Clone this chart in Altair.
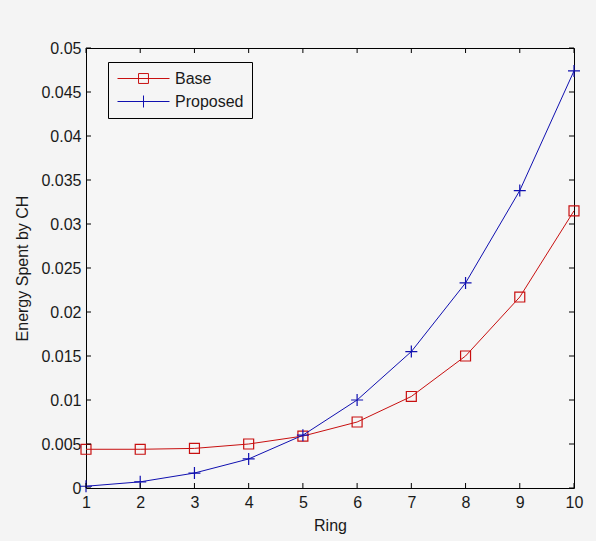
import altair as alt
import pandas as pd

rings = [1, 2, 3, 4, 5, 6, 7, 8, 9, 10]
base = [0.0044, 0.0044, 0.0045, 0.0050, 0.0059, 0.0075, 0.0104, 0.0150, 0.0217, 0.0315]
proposed = [0.0002, 0.0007, 0.0017, 0.0033, 0.0060, 0.0100, 0.0155, 0.0233, 0.0338, 0.0474]
series_names = ["Base", "Proposed"]
x_ticks = [1, 2, 3, 4, 5, 6, 7, 8, 9, 10]
y_ticks = [0, 0.005, 0.01, 0.015, 0.02, 0.025, 0.03, 0.035, 0.04, 0.045, 0.05]

RED = "#c81010"
BLUE = "#1010b0"
FONT = "Liberation Sans"
TXT = "#1a1a1a"

df = pd.DataFrame({
    "Ring": rings * 2,
    "Energy": base + proposed,
    "Series": [series_names[0]] * len(rings) + [series_names[1]] * len(rings),
})
xt = pd.DataFrame({"Ring": x_ticks})
yt = pd.DataFrame({"Energy": y_ticks})

W, H = 488, 440

xscale = alt.Scale(domain=[1, 10], nice=False, zero=False)
yscale = alt.Scale(domain=[0, 0.05], nice=False)

x_axis = alt.Axis(values=x_ticks, tickSize=0, domain=False, grid=False, labelFontSize=16,
                  labelFont=FONT, labelColor=TXT, labelPadding=6, title="Ring",
                  titleFont=FONT, titleFontSize=16, titleFontWeight="normal", titleColor=TXT,
                  titlePadding=7, labelFlush=False)
y_axis = alt.Axis(values=y_ticks, tickSize=0, domain=False, grid=False, labelFontSize=16,
                  labelFont=FONT, labelColor=TXT, labelPadding=5, format="~g",
                  title="Energy Spent by CH", titleFont=FONT, titleFontSize=16,
                  titleFontWeight="normal", titleColor=TXT, titlePadding=10, labelFlush=False)

sq_pt = "M-0.83,-0.83L0.83,-0.83L0.83,0.83L-0.83,0.83Z"
plus_pt = "M-1,0L1,0M0,-1L0,1"
leg_base = "M-3.25,0L3.25,0M-0.62,-0.62L0.62,-0.62L0.62,0.62L-0.62,0.62Z"
leg_prop = "M-3.25,0L3.25,0M0,-0.75L0,0.75"

X = alt.X("Ring:Q", scale=xscale, axis=x_axis)
Y = alt.Y("Energy:Q", scale=yscale, axis=y_axis)

def series_layers(name, colour, shape):
    src = alt.Chart(df).transform_filter(alt.datum.Series == name)
    ln = src.mark_line(strokeWidth=1, color=colour).encode(x=X, y=Y)
    pt = src.mark_point(filled=False, strokeWidth=1.2, size=144, opacity=1,
                        shape=shape, color=colour).encode(x=X, y=Y)
    return [ln, pt]

legend = alt.Legend(
    title=None, orient="none", legendX=22, legendY=14,
    fillColor="#f5f5f5", strokeColor="#000000", padding=8,
    symbolSize=256, symbolStrokeWidth=1, symbolOffset=19, labelOffset=23, symbolOpacity=1,
    labelFont=FONT, labelFontSize=16, labelColor=TXT, rowPadding=6,
)

leg_layer = alt.Chart(df).mark_point(
    filled=False, strokeWidth=1, size=256, opacity=0).encode(
    x=X, y=Y,
    color=alt.Color("Series:N", scale=alt.Scale(domain=series_names, range=[RED, BLUE]), legend=legend),
    shape=alt.Shape("Series:N", scale=alt.Scale(domain=series_names, range=[leg_base, leg_prop]), legend=legend),
)

xb = alt.Chart(xt).mark_rule(color="#000000", strokeWidth=1).encode(
    x=X, y=alt.value(H), y2=alt.value(H - 5))
xtp = alt.Chart(xt).mark_rule(color="#000000", strokeWidth=1).encode(
    x=X, y=alt.value(0), y2=alt.value(5))
yl = alt.Chart(yt).mark_rule(color="#000000", strokeWidth=1).encode(
    y=Y, x=alt.value(0), x2=alt.value(5))
yr = alt.Chart(yt).mark_rule(color="#000000", strokeWidth=1).encode(
    y=Y, x=alt.value(W), x2=alt.value(W - 5))

layers = series_layers("Base", RED, sq_pt) + series_layers("Proposed", BLUE, plus_pt)
chart = alt.layer(leg_layer, *layers, xb, xtp, yl, yr).properties(
    width=W, height=H,
    autosize=alt.AutoSizeParams(type="none"),
    padding={"left": 86, "top": 48, "right": 22, "bottom": 53},
    background="#f4f4f4",
).configure_view(stroke="#000000", strokeWidth=1, fill="#f6f6f6")

chart.save("out.html", embed_options={"renderer": "svg", "actions": False})
